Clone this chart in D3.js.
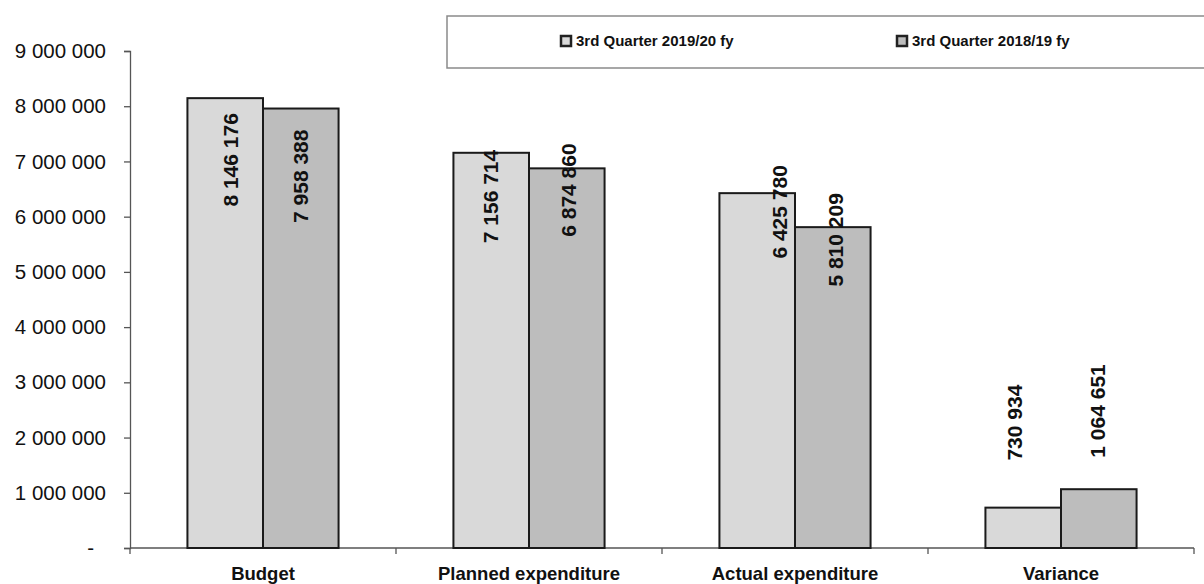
<!DOCTYPE html>
<html>
<head>
<meta charset="utf-8">
<script src="https://cdn.jsdelivr.net/npm/d3@7"></script>
<style>
  html, body { margin: 0; padding: 0; background: #fff; }
  svg { display: block; font-family: "Liberation Sans", Arial, sans-serif; }
</style>
</head>
<body>
<svg id="chart" width="1204" height="584"></svg>
<script>
// Expenditure comparison, 3rd quarter, two financial years
const categories = ["Budget", "Planned expenditure", "Actual expenditure", "Variance"];
const seriesNames = ["3rd Quarter 2019/20 fy", "3rd Quarter 2018/19 fy"];
const values2019 = [8146176, 7156714, 6425780, 730934];
const values2018 = [7958388, 6874860, 5810209, 1064651];
const yTickValues = [0, 1000000, 2000000, 3000000, 4000000, 5000000, 6000000, 7000000, 8000000, 9000000];

// hand-placed value label offsets [dx, dy from bar top], per series
const labelNudge = [
  [[5, 15], [-1, -3], [22, -28], [-9, -123]],
  [[0, 21], [2, -25], [3, -34], [-1, -125]]
];
const fills = ["#d9d9d9", "#bdbdbd"];

const svg = d3.select("#chart");
const locale = d3.formatLocale({ decimal: ".", thousands: " ", grouping: [3], currency: ["", ""] });
const fmt = locale.format(",d");

const x = d3.scaleBand().domain(categories).range([130, 1194]).paddingInner(0).paddingOuter(0);
const xs = d3.scaleBand().domain(seriesNames).range([0, x.bandwidth()]).paddingInner(0).paddingOuter(0.76);
const y = d3.scaleLinear().domain([0, 9000000]).range([548, 51]);

// y axis
const yAxis = svg.append("g")
  .attr("transform", "translate(130,0)")
  .call(d3.axisLeft(y).tickValues(yTickValues).tickSize(6).tickPadding(18)
    .tickFormat(d => d === 0 ? "-" : fmt(d)));
yAxis.select(".domain").attr("stroke", "#555").attr("stroke-width", 1.3);
yAxis.selectAll(".tick line").attr("stroke", "#555").attr("stroke-width", 1.3);
yAxis.selectAll(".tick text")
  .attr("font-size", 20.5).attr("fill", "#111")
  .attr("font-family", "'Liberation Sans', Arial, sans-serif");
yAxis.selectAll(".tick").filter(d => d === 0).select("text").attr("dx", -12);

// x axis baseline with ticks on category boundaries
const xBase = svg.append("g");
xBase.append("line")
  .attr("x1", x.range()[0]).attr("x2", x.range()[1])
  .attr("y1", y(0)).attr("y2", y(0))
  .attr("stroke", "#555").attr("stroke-width", 1.3);
const bounds = categories.map(c => x(c)).concat([x.range()[1]]);
xBase.selectAll("line.b").data(bounds).join("line").attr("class", "b")
  .attr("x1", d => d).attr("x2", d => d)
  .attr("y1", y(0)).attr("y2", y(0) + 6)
  .attr("stroke", "#555").attr("stroke-width", 1.3);

const xAxis = svg.append("g")
  .attr("transform", `translate(0,${y(0)})`)
  .call(d3.axisBottom(x).tickSize(0).tickPadding(19));
xAxis.select(".domain").remove();
xAxis.selectAll(".tick text")
  .attr("font-size", 18.5).attr("font-weight", "bold").attr("fill", "#111")
  .attr("font-family", "'Liberation Sans', Arial, sans-serif");

// bars
const seriesValues = [values2019, values2018];
const groups = svg.append("g").selectAll("g")
  .data(seriesValues).join("g")
  .attr("fill", (d, i) => fills[i]);

groups.each(function (vals, si) {
  const g = d3.select(this);
  g.selectAll("rect").data(vals).join("rect")
    .attr("x", (d, i) => x(categories[i]) + xs(seriesNames[si]))
    .attr("y", d => y(d))
    .attr("width", xs.bandwidth())
    .attr("height", d => y(0) - y(d))
    .attr("stroke", "#1a1a1a").attr("stroke-width", 2);
});

// rotated value labels
const labels = svg.append("g");
seriesValues.forEach((vals, si) => {
  vals.forEach((v, i) => {
    const cx = x(categories[i]) + xs(seriesNames[si]) + xs.bandwidth() / 2 + labelNudge[si][i][0];
    const top = y(v) + labelNudge[si][i][1];
    labels.append("text")
      .attr("transform", `translate(${cx},${top}) rotate(-90)`)
      .attr("text-anchor", "end")
      .attr("dy", "0.36em")
      .attr("font-size", 21).attr("font-weight", "bold").attr("fill", "#111")
      .text(fmt(v));
  });
});

// legend
const legend = svg.append("g");
legend.append("rect")
  .attr("x", 447).attr("y", 16).attr("width", 800).attr("height", 52)
  .attr("fill", "#fff").attr("stroke", "#8a8a8a").attr("stroke-width", 1.5);
const legendX = [561, 897];
seriesNames.forEach((name, i) => {
  legend.append("rect")
    .attr("x", legendX[i]).attr("y", 36).attr("width", 10).attr("height", 10)
    .attr("fill", fills[i]).attr("stroke", "#222").attr("stroke-width", 2.5);
  legend.append("text")
    .attr("x", legendX[i] + 15).attr("y", 41).attr("dy", "0.36em")
    .attr("font-size", 15).attr("font-weight", "bold").attr("fill", "#111")
    .text(name);
});
</script>
</body>
</html>
